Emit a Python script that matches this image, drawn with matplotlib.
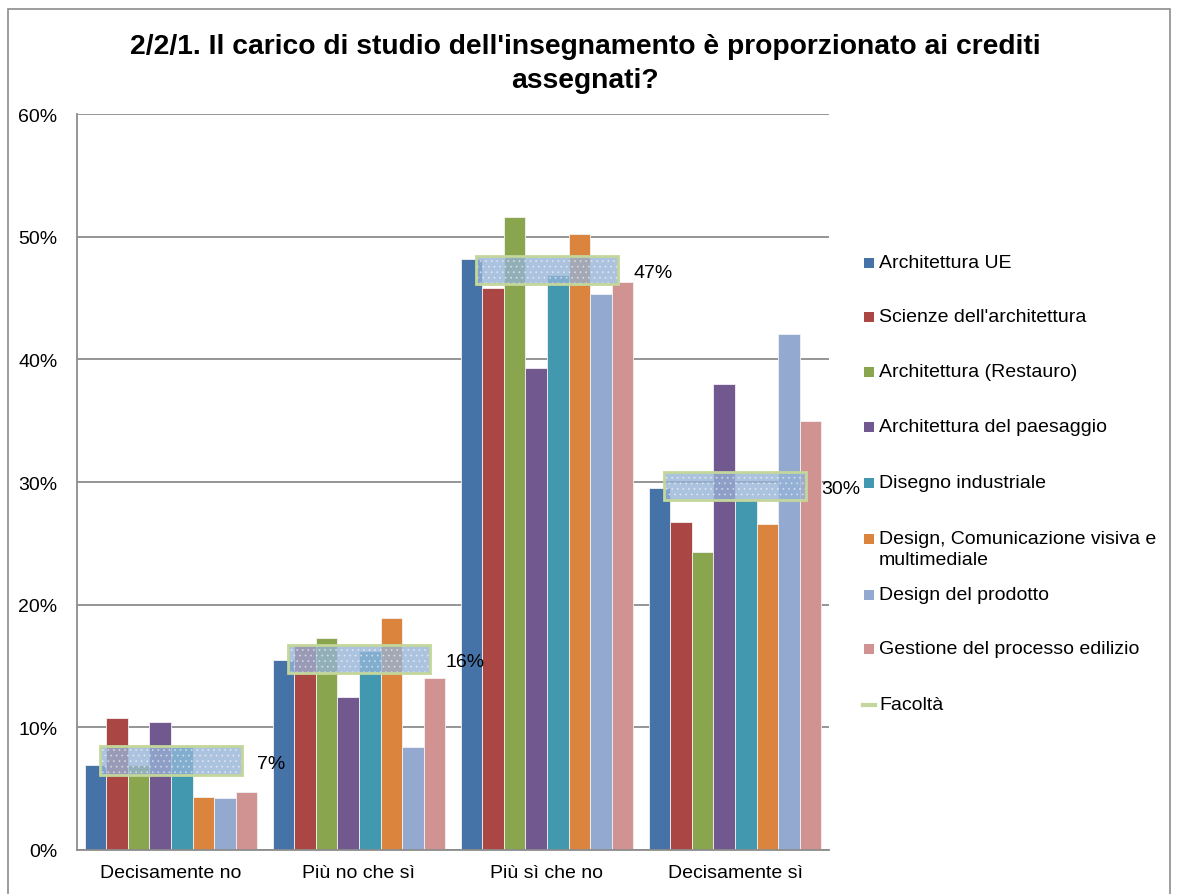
import numpy as np
import matplotlib
matplotlib.use("Agg")
import matplotlib.pyplot as plt
from matplotlib.patches import Rectangle
from matplotlib.lines import Line2D

plt.rcParams["font.family"] = ["Liberation Sans", "DejaVu Sans"]
plt.rcParams["hatch.linewidth"] = 0.6

# ---------------- DATA ----------------
categories = ["Decisamente no", "Più no che sì", "Più sì che no", "Decisamente sì"]

series_names = [
    "Architettura UE",
    "Scienze dell'architettura",
    "Architettura (Restauro)",
    "Architettura del paesaggio",
    "Disegno industriale",
    "Design, Comunicazione visiva e\nmultimediale",
    "Design del prodotto",
    "Gestione del processo edilizio",
]

arch_ue = [6.9, 15.5, 48.2, 29.5]
scienze_arch = [10.8, 16.7, 45.8, 26.7]
arch_restauro = [6.9, 17.3, 51.6, 24.3]
arch_paesaggio = [10.4, 12.5, 39.3, 38.0]
disegno_ind = [8.4, 16.2, 46.9, 28.6]
design_com = [4.3, 18.9, 50.2, 26.6]
design_prod = [4.2, 8.4, 45.3, 42.1]
gestione_ed = [4.7, 14.0, 46.3, 35.0]

facolta = [7.3, 15.6, 47.3, 29.7]

series_values = [arch_ue, scienze_arch, arch_restauro, arch_paesaggio,
                 disegno_ind, design_com, design_prod, gestione_ed]

colors = ["#4572A7", "#AA4643", "#89A54E", "#71588F",
          "#4198AF", "#DB843D", "#93A9CF", "#D19392"]

# ---------------- FIGURE ----------------
W, H = 1178, 895
fig = plt.figure(figsize=(W / 100, H / 100), dpi=100)

# outer chart border
fig.patches.append(Rectangle((8 / W, -0.01), (1170 - 8) / W, 1 - 10 / H + 0.01,
                             transform=fig.transFigure, fill=False,
                             edgecolor="#8C8C8C", linewidth=1.2))

ax = fig.add_axes([77 / W, 1 - 851 / H, (829 - 77) / W, (851 - 115) / H])

x = np.arange(len(categories))
group_w = 0.915
bar_w = group_w / len(series_values)
for i, (vals, c) in enumerate(zip(series_values, colors)):
    offs = -group_w / 2 + bar_w * (i + 0.5)
    ax.bar(x + offs, vals, width=bar_w, color=c, edgecolor="#F2F2F2",
           linewidth=0.6, zorder=2)

# Facolta: wide translucent box centred on the value
box_w = 0.755
box_h = 2.3
fac = np.array(facolta)
ax.bar(x, box_h, bottom=fac - box_h / 2, width=box_w, color="#95B3D7",
       alpha=0.78, edgecolor="none", zorder=3)
ax.bar(x, box_h, bottom=fac - box_h / 2, width=box_w, fill=False,
       edgecolor="white", hatch="...", linewidth=0, alpha=0.45, zorder=4)
ax.bar(x, box_h, bottom=fac - box_h / 2, width=box_w, fill=False,
       edgecolor="#C3D69B", linewidth=2, zorder=5)

for xi, v in zip(x, facolta):
    ax.annotate(f"{v:.0f}%", (xi + box_w / 2, v), xytext=(11, -2),
                textcoords="offset points", va="center", ha="left",
                fontsize=14, color="black", zorder=6, annotation_clip=False)

ax.set_xlim(-0.5, len(categories) - 0.5)
ax.set_ylim(0, 60)
ax.set_yticks(np.arange(0, 61, 10))
ax.set_yticklabels([f"{t}%" for t in range(0, 61, 10)])
ax.set_xticks(x)
ax.set_xticklabels(categories)
ax.tick_params(axis="both", length=0, labelsize=14, colors="black")
ax.tick_params(axis="y", pad=14)
ax.tick_params(axis="x", pad=10)
ax.yaxis.grid(True, color="#8C8C8C", linewidth=1.3, zorder=0)
ax.set_axisbelow(True)
for s in ["top", "right"]:
    ax.spines[s].set_visible(False)
for s in ["left", "bottom"]:
    ax.spines[s].set_color("#8C8C8C")
    ax.spines[s].set_linewidth(1.3)

fig.text(585 / W, 1 - 64 / H,
         "2/2/1. Il carico di studio dell'insegnamento è proporzionato ai crediti\nassegnati?",
         ha="center", va="center", fontsize=20.3, fontweight="bold",
         linespacing=1.4)

# ---------------- LEGEND ----------------
leg_y = [264, 318, 373, 428, 484, 540, 596, 650]
for name, c, yy in zip(series_names, colors, leg_y):
    fig.patches.append(Rectangle((864 / W, 1 - (yy + 5) / H), 10 / W, 10 / H,
                                 transform=fig.transFigure, facecolor=c,
                                 edgecolor="none"))
    fig.text(879 / W, 1 - (yy - 9) / H, name, ha="left", va="top",
             fontsize=14, linespacing=1.3)
fig.lines.append(Line2D([863 / W, 875 / W], [1 - 706 / H, 1 - 706 / H],
                        transform=fig.transFigure, color="#C3D69B", linewidth=3))
fig.text(879 / W, 1 - 706 / H, "Facoltà", ha="left", va="center", fontsize=14)

fig.savefig("out.png", dpi=100)
